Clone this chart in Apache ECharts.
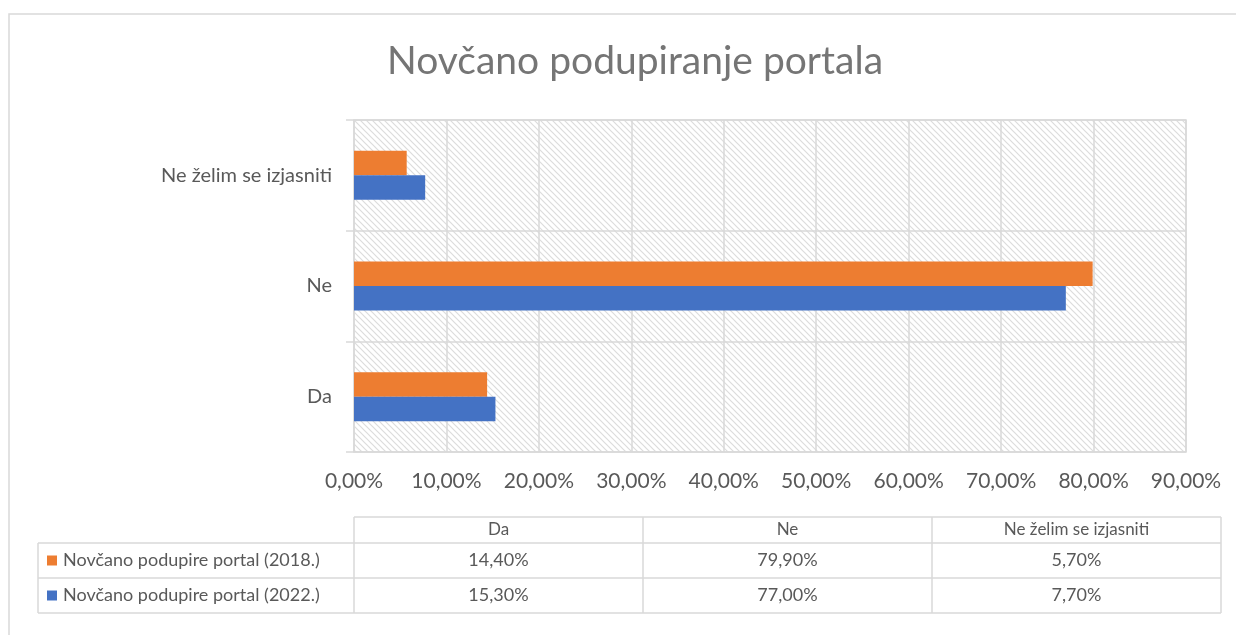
<!DOCTYPE html>
<html style="height: 100%">
<head>
    <meta charset="utf-8">
    <title>Novčano podupiranje portala</title>
</head>
<body style="margin:0;background:#fff">
<div id="container" style="width:1236px;height:635px"></div>

<script src="https://cdn.jsdelivr.net/npm/echarts@6/dist/echarts.min.js" type="text/javascript"></script>
<script type="text/javascript">
    var categories = ['Da', 'Ne', 'Ne želim se izjasniti'];
    var seriesNames = ['Novčano podupire portal (2018.)', 'Novčano podupire portal (2022.)'];
    var values2018 = [14.4, 79.9, 5.7];
    var values2022 = [15.3, 77.0, 7.7];
    var colors = ['#ED7D31', '#4472C4'];

    var FONT = 'Lato';
    var TEXT = '#595959';
    var LINE = '#d9d9d9';

    function pct(v) {
        return v.toFixed(2).replace('.', ',') + '%';
    }

    // diagonal hatch for the plot area
    var hatch = document.createElement('canvas');
    hatch.width = 6;
    hatch.height = 6;
    var hc = hatch.getContext('2d');
    hc.fillStyle = '#fff';
    hc.fillRect(0, 0, 6, 6);
    hc.strokeStyle = '#dcdcdc';
    hc.lineWidth = 1.2;
    hc.beginPath();
    hc.moveTo(-1, -1); hc.lineTo(7, 7);
    hc.moveTo(-4, 2); hc.lineTo(4, 10);
    hc.moveTo(2, -4); hc.lineTo(10, 4);
    hc.stroke();

    var dom = document.getElementById('container');
    var myChart = echarts.init(dom);

    // data table drawn below the axis
    var tLeft = 38, tLabelRight = 354, tRight = 1221;
    var tTop = 517, headH = 26, rowH = 35;
    var colW = (tRight - tLabelRight) / categories.length;
    var table = [];
    function line(x1, y1, x2, y2) {
        table.push({type: 'line', shape: {x1: x1, y1: y1, x2: x2, y2: y2},
            style: {stroke: LINE, lineWidth: 1.5}, silent: true});
    }
    var tBottom = tTop + headH + rowH * 2;
    line(tLabelRight, tTop, tRight, tTop);
    line(tLeft, tTop + headH, tRight, tTop + headH);
    line(tLeft, tTop + headH + rowH, tRight, tTop + headH + rowH);
    line(tLeft, tBottom, tRight, tBottom);
    line(tLeft, tTop + headH, tLeft, tBottom);
    for (var c = 0; c <= categories.length; c++) {
        line(tLabelRight + c * colW, tTop, tLabelRight + c * colW, tBottom);
    }
    categories.forEach(function (cat, i) {
        table.push({type: 'text', x: tLabelRight + (i + 0.5) * colW, y: tTop + headH / 2,
            style: {text: cat, font: '17px ' + FONT, fill: TEXT, align: 'center', verticalAlign: 'middle'}});
    });
    [values2018, values2022].forEach(function (vals, r) {
        var cy = tTop + headH + rowH * (r + 0.5);
        table.push({type: 'rect', shape: {x: 47, y: cy - 5, width: 10, height: 10}, style: {fill: colors[r]}});
        table.push({type: 'text', x: 63, y: cy,
            style: {text: seriesNames[r], font: '18px ' + FONT, fill: TEXT, verticalAlign: 'middle'}});
        vals.forEach(function (v, i) {
            table.push({type: 'text', x: tLabelRight + (i + 0.5) * colW, y: cy,
                style: {text: pct(v), font: '18px ' + FONT, fill: TEXT, align: 'center', verticalAlign: 'middle'}});
        });
    });
    // outer chart border
    table.unshift({type: 'rect', shape: {x: 9, y: 14, width: 1240, height: 640},
        style: {fill: 'none', stroke: LINE, lineWidth: 1.5}, silent: true});

    var option = {
        animation: false,
        textStyle: {fontFamily: FONT},
        title: {
            text: 'Novčano podupiranje portala',
            left: 630,
            top: 37,
            textAlign: 'center',
            textStyle: {fontSize: 39, fontWeight: 'normal', color: '#757575', fontFamily: FONT}
        },
        grid: {
            left: 354, right: 50, top: 120, bottom: 183,
            show: true,
            backgroundColor: {image: hatch, repeat: 'repeat'},
            borderColor: LINE,
            borderWidth: 1.5
        },
        xAxis: {
            type: 'value',
            min: 0, max: 90, interval: 10,
            axisLine: {show: false},
            axisTick: {show: false},
            splitLine: {lineStyle: {color: LINE, width: 1.5}},
            axisLabel: {formatter: pct, color: TEXT, fontSize: 21, margin: 19, fontFamily: FONT}
        },
        yAxis: {
            type: 'category',
            data: categories,
            axisLine: {show: false},
            axisTick: {show: true, length: 8, lineStyle: {color: LINE, width: 1.5}},
            splitLine: {show: true, lineStyle: {color: LINE, width: 1.5}},
            axisLabel: {color: TEXT, fontSize: 20, margin: 22, fontFamily: FONT}
        },
        series: [
            {name: seriesNames[0], type: 'bar', data: values2018, barWidth: 24.5, barGap: '0%',
                itemStyle: {color: colors[0]}},
            {name: seriesNames[1], type: 'bar', data: values2022, barWidth: 24.5, barGap: '0%',
                itemStyle: {color: colors[1]}}
        ],
        graphic: table
    };

    myChart.setOption(option);
</script>
</body>
</html>
